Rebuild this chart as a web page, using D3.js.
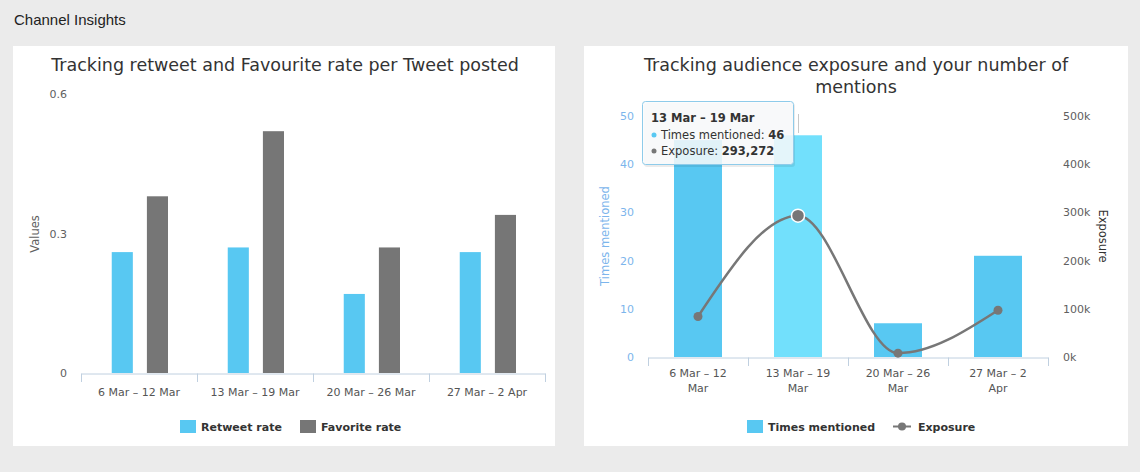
<!DOCTYPE html>
<html><head><meta charset="utf-8">
<script src="https://cdn.jsdelivr.net/npm/d3@7"></script>
<style>
html,body{margin:0;padding:0;background:#ebebeb;}
svg{display:block;}
</style></head>
<body>
<svg id="c" width="1140" height="472"></svg>
<script>
// ---------- DATA ----------
const categories = ["6 Mar – 12 Mar", "13 Mar – 19 Mar", "20 Mar – 26 Mar", "27 Mar – 2 Apr"];
const retweetRate = [0.26, 0.27, 0.17, 0.26];
const favoriteRate = [0.38, 0.52, 0.27, 0.34];
const leftTicks = [0, 0.3, 0.6];
const timesMentioned = [45, 46, 7, 21];
const exposure = [84000, 293272, 8000, 97000];
const mentionTicks = [0, 10, 20, 30, 40, 50];
const exposureTicks = [0, 100000, 200000, 300000, 400000, 500000];
const hoverIndex = 1;

const FONT = "'DejaVu Sans', Verdana, sans-serif";
const svg = d3.select("#c");

// page header
svg.append("text").attr("x", 14).attr("y", 25).text("Channel Insights")
  .style("font-family", "'Liberation Sans', Arial, sans-serif").style("font-size", "15px").attr("fill", "#222");

// panels
svg.append("rect").attr("x", 13).attr("y", 46).attr("width", 542).attr("height", 400).attr("fill", "#fff");
svg.append("rect").attr("x", 584).attr("y", 46).attr("width", 544).attr("height", 400).attr("fill", "#fff");

function wrap(sel, maxW, lineH) {
  sel.each(function() {
    const t = d3.select(this);
    const words = t.text().split(" ");
    t.text(null);
    let line = [], lines = [];
    const probe = t.append("tspan");
    words.forEach(w => {
      line.push(w);
      probe.text(line.join(" "));
      if (probe.node().getComputedTextLength() > maxW && line.length > 1) {
        line.pop(); lines.push(line.join(" ")); line = [w];
      }
    });
    lines.push(line.join(" "));
    probe.remove();
    lines.forEach((l, i) => t.append("tspan").attr("x", 0).attr("dy", i === 0 ? 0 : lineH).text(l));
  });
}

// ============ LEFT CHART ============
{
  const g = svg.append("g");
  g.append("text").attr("x", 285).attr("y", 71).attr("text-anchor", "middle")
    .text("Tracking retweet and Favourite rate per Tweet posted")
    .style("font-family", FONT).style("font-size", "17.5px").attr("fill", "#333");

  const x0 = d3.scaleBand().domain(categories).range([81, 545]).padding(0);
  const bw = x0.bandwidth();
  const x1 = d3.scaleBand().domain(["Retweet rate", "Favorite rate"]).range([bw * 0.265, bw * 0.75]).paddingInner(0.4);
  const y = d3.scaleLinear().domain([0, 0.6]).range([373, 94]);
  const colors = {"Retweet rate": "#58c8f2", "Favorite rate": "#767676"};
  const series = [["Retweet rate", retweetRate], ["Favorite rate", favoriteRate]];

  series.forEach(([name, vals]) => {
    g.selectAll(null).data(vals).join("rect")
      .attr("x", (d, i) => x0(categories[i]) + x1(name))
      .attr("width", x1.bandwidth())
      .attr("y", d => y(d))
      .attr("height", d => y(0) - y(d))
      .attr("fill", colors[name]);
  });

  // y axis labels
  const ya = g.append("g").attr("transform", "translate(67,0)")
    .call(d3.axisLeft(y).tickValues(leftTicks).tickSize(0).tickPadding(0).tickFormat(d3.format("")));
  ya.select(".domain").remove();
  ya.selectAll("text").style("font-family", FONT).style("font-size", "11px").attr("fill", "#606060");

  g.append("text").attr("transform", "translate(39,234) rotate(-90)").attr("text-anchor", "middle")
    .text("Values").style("font-family", FONT).style("font-size", "11.5px").attr("fill", "#606060");

  // x axis
  const xa = g.append("g").attr("transform", "translate(0,373.5)")
    .call(d3.axisBottom(x0).tickSize(0).tickPadding(15));
  xa.select(".domain").attr("stroke", "#c0d0e0");
  xa.selectAll("text").style("font-family", FONT).style("font-size", "11px").attr("fill", "#555");
  const bounds = categories.map(c => x0(c)).concat([x0.range()[1]]);
  g.selectAll(null).data(bounds).join("line")
    .attr("x1", d => Math.round(d) + 0.5).attr("x2", d => Math.round(d) + 0.5)
    .attr("y1", 373.5).attr("y2", 382).attr("stroke", "#c0d0e0");

  // legend
  const lg = g.append("g");
  const litems = [["Retweet rate", 180], ["Favorite rate", 300]];
  litems.forEach(([n, lx]) => {
    lg.append("rect").attr("x", lx).attr("y", 420).attr("width", 16).attr("height", 13).attr("fill", colors[n]);
    lg.append("text").attr("x", lx + 21).attr("y", 431).text(n)
      .style("font-family", FONT).style("font-size", "11px").style("font-weight", "bold").attr("fill", "#333");
  });
}

// ============ RIGHT CHART ============
{
  const g = svg.append("g");
  const t = g.append("text").attr("text-anchor", "middle").style("font-family", FONT).style("font-size", "17.5px").attr("fill", "#333");
  t.append("tspan").attr("x", 856).attr("y", 71).text("Tracking audience exposure and your number of");
  t.append("tspan").attr("x", 856).attr("y", 93).text("mentions");

  const x = d3.scaleBand().domain(categories).range([648, 1048]).padding(0);
  const bw = x.bandwidth();
  const yL = d3.scaleLinear().domain([0, 50]).range([357, 116]);
  const yR = d3.scaleLinear().domain([0, 500000]).range([357, 116]);

  // bars
  g.selectAll(null).data(timesMentioned).join("rect")
    .attr("x", (d, i) => x(categories[i]) + bw * 0.26)
    .attr("width", bw * 0.48)
    .attr("y", d => yL(d))
    .attr("height", d => yL(0) - yL(d))
    .attr("fill", (d, i) => i === hoverIndex ? "#72e0fc" : "#58c8f2");

  // left axis
  const ya = g.append("g").attr("transform", "translate(634,0)")
    .call(d3.axisLeft(yL).tickValues(mentionTicks).tickSize(0).tickPadding(0));
  ya.select(".domain").remove();
  ya.selectAll("text").style("font-family", FONT).style("font-size", "11px").attr("fill", "#7cb5ec");
  g.append("text").attr("transform", "translate(609,236) rotate(-90)").attr("text-anchor", "middle")
    .text("Times mentioned").style("font-family", FONT).style("font-size", "11.5px").attr("fill", "#7cb5ec");

  // right axis
  const yr = g.append("g").attr("transform", "translate(1063,0)")
    .call(d3.axisRight(yR).tickValues(exposureTicks).tickSize(0).tickPadding(0).tickFormat(d => (d / 1000) + "k"));
  yr.select(".domain").remove();
  yr.selectAll("text").style("font-family", FONT).style("font-size", "11px").attr("fill", "#606060");
  g.append("text").attr("transform", "translate(1099,236) rotate(90)").attr("text-anchor", "middle")
    .text("Exposure").style("font-family", FONT).style("font-size", "11.5px").attr("fill", "#333");

  // x axis
  const xa = g.append("g").attr("transform", "translate(0,357.5)")
    .call(d3.axisBottom(x).tickSize(0).tickPadding(0));
  xa.select(".domain").attr("stroke", "#c0d0e0");
  xa.selectAll(".tick text").attr("y", 19).style("font-family", FONT).style("font-size", "11px").attr("fill", "#555")
    .call(wrap, 80, 15);
  const bounds = categories.map(c => x(c)).concat([x.range()[1]]);
  g.selectAll(null).data(bounds).join("line")
    .attr("x1", d => Math.round(d) + 0.5).attr("x2", d => Math.round(d) + 0.5)
    .attr("y1", 357.5).attr("y2", 366).attr("stroke", "#c0d0e0");

  // exposure spline
  const cx = i => x(categories[i]) + bw / 2;
  const line = d3.line().x((d, i) => cx(i)).y(d => yR(d)).curve(d3.curveMonotoneX);
  g.append("path").datum(exposure).attr("d", line).attr("fill", "none").attr("stroke", "#777").attr("stroke-width", 2.5);
  g.selectAll(null).data(exposure).join("circle")
    .attr("cx", (d, i) => cx(i)).attr("cy", d => yR(d))
    .attr("r", (d, i) => i === hoverIndex ? 6.5 : 4.5)
    .attr("fill", "#777")
    .attr("stroke", (d, i) => i === hoverIndex ? "#fff" : "none").attr("stroke-width", 1.5);

  // thin guide line near hovered category
  g.append("line").attr("x1", 798.5).attr("x2", 798.5).attr("y1", 114).attr("y2", 133).attr("stroke", "#c8c8c8");

  // tooltip
  const tt = g.append("g");
  tt.append("rect").attr("x", 644).attr("y", 103).attr("width", 151).attr("height", 64).attr("rx", 3)
    .attr("fill", "rgba(0,0,0,0.08)");
  tt.append("rect").attr("x", 642.5).attr("y", 101.5).attr("width", 151).attr("height", 63).attr("rx", 3)
    .attr("fill", "rgba(250,252,253,0.85)").attr("stroke", "#8ecbea").attr("stroke-width", 1);
  const tf = s => s.style("font-family", FONT).style("font-size", "11.5px").attr("fill", "#333");
  tt.append("text").attr("x", 651).attr("y", 122).text(categories[hoverIndex]).call(tf).style("font-weight", "bold");
  tt.append("circle").attr("cx", 654).attr("cy", 135).attr("r", 2.5).attr("fill", "#58c8f2");
  const r2 = tt.append("text").attr("x", 661).attr("y", 139).call(tf);
  r2.append("tspan").text("Times mentioned: ");
  r2.append("tspan").text(timesMentioned[hoverIndex]).style("font-weight", "bold");
  tt.append("circle").attr("cx", 654).attr("cy", 151).attr("r", 2.5).attr("fill", "#777");
  const r3 = tt.append("text").attr("x", 661).attr("y", 155).call(tf);
  r3.append("tspan").text("Exposure: ");
  r3.append("tspan").text(d3.format(",")(exposure[hoverIndex])).style("font-weight", "bold");

  // legend
  const lg = g.append("g");
  lg.append("rect").attr("x", 747).attr("y", 420).attr("width", 16).attr("height", 13).attr("fill", "#58c8f2");
  lg.append("text").attr("x", 768).attr("y", 431).text("Times mentioned")
    .style("font-family", FONT).style("font-size", "11px").style("font-weight", "bold").attr("fill", "#333");
  lg.append("line").attr("x1", 893).attr("x2", 911).attr("y1", 426.5).attr("y2", 426.5).attr("stroke", "#777").attr("stroke-width", 2);
  lg.append("circle").attr("cx", 902).attr("cy", 426.5).attr("r", 4).attr("fill", "#777");
  lg.append("text").attr("x", 918).attr("y", 431).text("Exposure")
    .style("font-family", FONT).style("font-size", "11px").style("font-weight", "bold").attr("fill", "#333");
}
</script>
</body></html>
